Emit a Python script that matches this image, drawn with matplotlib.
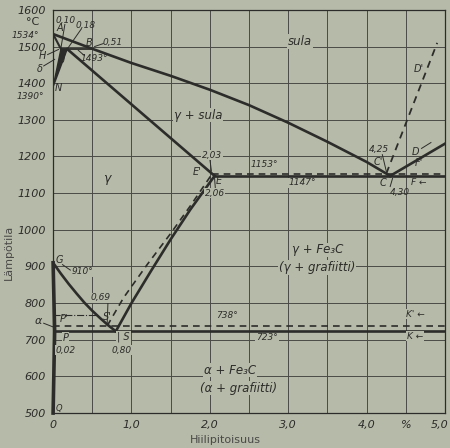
import matplotlib
matplotlib.use('Agg')
import matplotlib.pyplot as plt

# Fe-C tasapainopiirros, arvot luettu kuvasta
liquidus_x = [0.0, 0.51, 1.0, 1.5, 2.0, 2.5, 3.0, 3.5, 4.0, 4.30]
liquidus_t = [1534, 1493, 1455, 1420, 1382, 1340, 1292, 1240, 1185, 1147]
solidus_x = [0.18, 2.06]
solidus_t = [1493, 1147]
ah_x, ah_t = [0.0, 0.10], [1534, 1493]
delta_x = [0.10, 0.0, 0.18]
delta_t = [1493, 1390, 1493]
peritectic_x, peritectic_t = [0.10, 0.51], [1493, 1493]
cd_x, cd_t = [4.30, 5.0], [1147, 1235]
cd_graphite_x, cd_graphite_t = [4.25, 4.90], [1153, 1510]
eutectic_x, eutectic_t = [2.06, 5.0], [1147, 1147]
eutectic_g_x, eutectic_g_t = [2.03, 5.0], [1153, 1153]
gs_x = [0.0, 0.1, 0.2, 0.3, 0.4, 0.5, 0.6, 0.7, 0.8]
gs_t = [910, 880, 852, 826, 801, 779, 759, 740, 723]
es_x = [0.80, 1.0, 1.25, 1.5, 1.75, 2.06]
es_t = [723, 800, 888, 974, 1055, 1147]
es_g_x = [0.69, 0.9, 1.2, 1.5, 1.75, 2.03]
es_g_t = [738, 815, 905, 990, 1065, 1153]
gpq_x, gpq_t = [0.0, 0.02, 0.0], [910, 723, 500]
curie_x, curie_t = [0.0, 0.55], [768, 768]
eutectoid_x, eutectoid_t = [0.02, 5.0], [723, 723]
eutectoid_g_x, eutectoid_g_t = [0.0, 5.0], [738, 738]

y_ticks = [500, 600, 700, 800, 900, 1000, 1100, 1200, 1300, 1400, 1500, 1600]
x_ticks = [0, 1, 2, 3, 4, 4.5, 4.93]
x_labels = ['0', '1,0', '2,0', '3,0', '4,0', '%', '5,0']

BG = '#b6baa8'
INK = '#2c2c2a'
GRID = '#4a4b46'

fig = plt.figure(figsize=(4.5, 4.48), dpi=100, facecolor=BG)
ax = fig.add_axes([0.118, 0.078, 0.871, 0.9], facecolor=BG)
ax.set_xlim(0, 5)
ax.set_ylim(500, 1600)

# ruudukko
for gx in [0.5, 1.0, 1.5, 2.0, 2.5, 3.0, 3.5, 4.0, 4.5]:
    ax.axvline(gx, color=GRID, lw=0.7, zorder=1)
for gy in y_ticks[1:-1]:
    ax.axhline(gy, color=GRID, lw=0.7, zorder=1)

lw = 1.9
ax.plot(liquidus_x, liquidus_t, color=INK, lw=lw, zorder=3)
ax.plot(solidus_x, solidus_t, color=INK, lw=lw, zorder=3)
ax.plot(ah_x, ah_t, color=INK, lw=1.5, zorder=3)
ax.fill(delta_x, delta_t, color=INK, zorder=3)
ax.plot(peritectic_x, peritectic_t, color=INK, lw=1.3, zorder=3)
ax.plot(cd_x, cd_t, color=INK, lw=lw, zorder=3)
ax.plot(cd_graphite_x, cd_graphite_t, color=INK, lw=1.3, ls=(0, (4, 3)), zorder=3)
ax.plot(eutectic_x, eutectic_t, color=INK, lw=lw, zorder=3)
ax.plot(eutectic_g_x, eutectic_g_t, color=INK, lw=1.2, ls=(0, (4, 3)), zorder=3)
ax.plot(gs_x, gs_t, color=INK, lw=lw, zorder=3)
ax.plot(es_x, es_t, color=INK, lw=lw, zorder=3)
ax.plot(es_g_x, es_g_t, color=INK, lw=1.2, ls=(0, (4, 3)), zorder=3)
ax.plot(gpq_x, gpq_t, color=INK, lw=2.6, zorder=3, clip_on=False)
ax.plot(curie_x, curie_t, color=INK, lw=0.8, ls='-.', zorder=3)
ax.plot(eutectoid_x, eutectoid_t, color=INK, lw=lw, zorder=3)
ax.plot(eutectoid_g_x, eutectoid_g_t, color=INK, lw=1.2, ls=(0, (4, 3)), zorder=3)

box = dict(fc=BG, ec='none', pad=0.6)


def lab(x, y, s, size=7, ha='center', bg=True, **kw):
    ax.text(x, y, s, fontsize=size, ha=ha, va='center', style='italic',
            color=INK, clip_on=False, zorder=5,
            bbox=box if bg else None, **kw)


def leader(x0, y0, x1, y1):
    ax.plot([x0, x1], [y0, y1], color=INK, lw=0.7, zorder=4, clip_on=False)


# alueiden nimet
lab(3.15, 1513, 'sula', 8.5)
lab(1.85, 1313, 'γ + sula', 8.5)
lab(0.69, 1141, 'γ', 9, bg=False)
lab(3.37, 945, 'γ + Fe₃C', 8.5)
lab(3.37, 897, '(γ + grafiitti)', 8.5)
lab(2.26, 617, 'α + Fe₃C', 8.5)
lab(2.36, 568, '(α + grafiitti)', 8.5)

# lämpötilat ja pisteet
lab(2.70, 1177, '1153°', 6.5)
lab(3.18, 1128, '1147°', 6.5)
lab(2.22, 765, '738°', 6.5)
lab(2.73, 705, '723°', 6.5)
lab(4.62, 770, "K' ←", 6.5)
lab(4.62, 710, 'K ←', 6.5)
lab(4.66, 1182, "F'", 7, bg=False)
lab(4.66, 1128, 'F ←', 6.5)
lab(4.62, 1212, 'D', 7, bg=False)
leader(4.70, 1222, 4.82, 1238)
lab(4.66, 1440, "D'", 7, bg=False)
lab(4.15, 1185, "C'", 7, bg=False)
lab(4.21, 1128, 'C', 7, bg=False)
lab(4.15, 1218, '4,25', 6.5, bg=False)
leader(4.20, 1205, 4.25, 1160)
lab(4.42, 1103, '4,30', 6.5, bg=False)
leader(4.30, 1118, 4.33, 1140)
lab(2.03, 1204, '2,03', 6.5)
leader(2.00, 1192, 2.02, 1160)
lab(1.84, 1157, "E'", 7, bg=False)
lab(2.12, 1132, 'E', 7, bg=False)
lab(2.06, 1100, '2,06', 6.5)
leader(2.07, 1112, 2.06, 1140)
lab(0.60, 814, '0,69', 6.5)
leader(0.70, 803, 0.69, 745)
lab(0.69, 762, "S'", 7, bg=False)
lab(0.90, 707, '| S', 7)
lab(0.87, 672, '0,80', 6.5)
lab(0.14, 756, "P'", 7, bg=False)
lab(0.16, 706, 'P', 7)
lab(0.16, 672, '0,02', 6.5)
lab(-0.19, 750, 'α', 8, bg=False)
leader(-0.12, 745, 0.0, 735)
lab(0.08, 917, 'G', 7, bg=False)
lab(0.38, 885, '910°', 6.5)
leader(0.12, 905, 0.22, 890)
lab(0.07, 512, 'Q', 6, bg=False)
lab(-0.36, 1530, '1534°', 6.5, bg=False)
lab(0.08, 1550, 'A', 7, bg=False)
lab(0.16, 1572, '0,10', 6.5, bg=False)
leader(0.15, 1560, 0.10, 1496)
lab(0.42, 1558, '0,18', 6.5, bg=False)
leader(0.36, 1548, 0.19, 1496)
lab(0.46, 1510, 'B', 7, bg=False)
lab(0.76, 1512, '0,51', 6.5, bg=False)
leader(0.53, 1500, 0.64, 1508)
lab(0.52, 1468, '1493°', 6.5, bg=False)
leader(0.32, 1490, 0.40, 1475)
lab(-0.13, 1473, 'H', 7, bg=False)
leader(-0.07, 1478, 0.07, 1492)
lab(0.14, 1468, 'J', 7, bg=False)
lab(-0.17, 1440, 'δ', 7, bg=False)
leader(-0.12, 1447, 0.02, 1465)
lab(0.07, 1386, 'N', 7, bg=False)
lab(-0.29, 1364, '1390°', 6.5, bg=False)

# akselit
ax.set_yticks(y_ticks)
ax.set_yticklabels([str(v) for v in y_ticks], style='italic', fontsize=8, color=INK)
ax.set_xticks(x_ticks)
ax.set_xticklabels(x_labels, style='italic', fontsize=8, color=INK)
ax.tick_params(length=0, pad=5)
for sp in ax.spines.values():
    sp.set_color(INK)
    sp.set_linewidth(0.9)

fig.text(33 / 450, 1 - 22 / 448, '°C', fontsize=8, color=INK, ha='center', va='center')
fig.text(225 / 450, 1 - 440 / 448, 'Hiilipitoisuus', fontsize=8, color='#4a4a48',
         ha='center', va='center')
fig.text(9 / 450, 1 - 252 / 448, 'Lämpötila', fontsize=8, color='#4a4a48',
         ha='center', va='center', rotation=90)

plt.savefig('out.png', dpi=100, facecolor=BG)
